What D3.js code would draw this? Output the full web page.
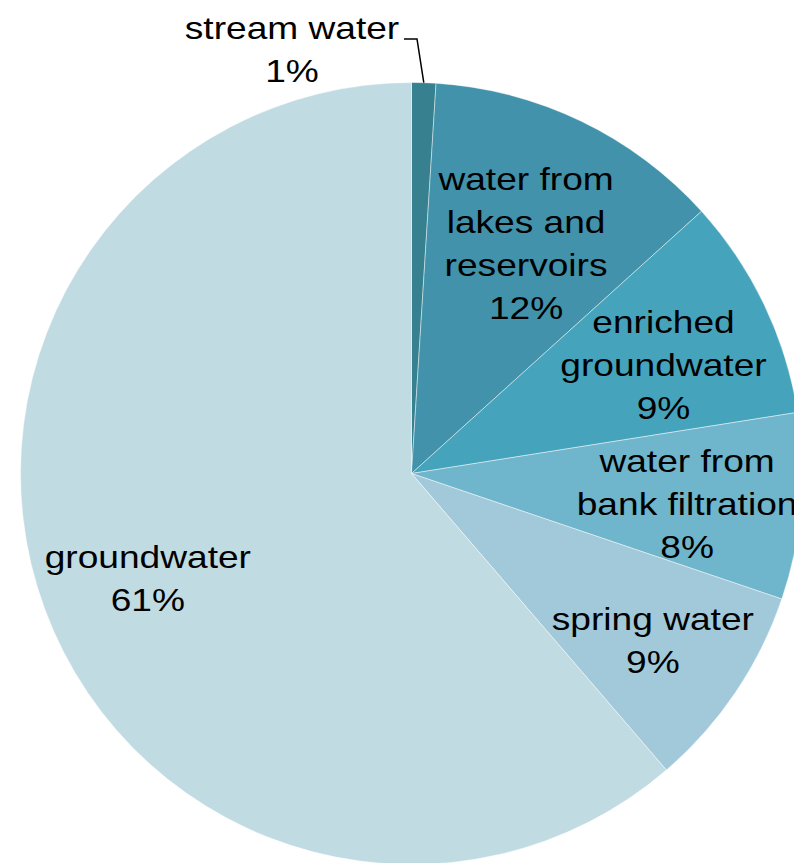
<!DOCTYPE html>
<html>
<head>
<meta charset="utf-8">
<script src="https://cdn.jsdelivr.net/npm/d3@7"></script>
<style>
  html, body { margin: 0; padding: 0; background: #fff; }
  svg { display: block; }
  text { font-family: "Liberation Sans", Arial, sans-serif; font-size: 32px; fill: #000; }
</style>
</head>
<body>
<svg id="chart" width="794" height="863"></svg>
<script>
// ---- data ----
const categories = ["stream water", "water from lakes and reservoirs", "enriched groundwater",
                    "water from bank filtration", "spring water", "groundwater"];
const labelLines = [["stream water"], ["water from", "lakes and", "reservoirs"], ["enriched", "groundwater"],
                    ["water from", "bank filtration"], ["spring water"], ["groundwater"]];
const shares = [1.0, 12.3, 9.2, 7.7, 8.5, 61.3];
const colors = ["#37808f", "#4192aa", "#46a3bc", "#6fb5cb", "#a1c9d9", "#c1dbe3"];

// ---- layout ----
const W = 794, H = 863;
const cx = 411.5, cy = 473.5, R = 391;
const labelRadiusFactor = [null, 0.658, 0.702, 0.709, 0.75, 0.726];
const labelAngleShiftDeg = [0, 0.7, 2.2, 1.4, 0.6, -1.4];
const lineH = 43, sx = 1.16;

const svg = d3.select("#chart");
const g = svg.append("g").attr("transform", `translate(${cx},${cy})`);

const pie = d3.pie().sort(null).value(d => d).startAngle(0).endAngle(2 * Math.PI);
const arcs = pie(shares);
const arc = d3.arc().innerRadius(0).outerRadius(R);

g.selectAll("path.slice").data(arcs).join("path")
  .attr("class", "slice")
  .attr("d", arc)
  .attr("fill", (d, i) => colors[i])
  .attr("stroke", "rgba(255,255,255,0.55)")
  .attr("stroke-width", 0.8);

function drawLabel(lines, x, y) {
  const n = lines.length;
  const first = y - (n - 1) * lineH / 2 + 11;
  lines.forEach((t, k) => {
    g.append("text")
      .attr("text-anchor", "middle")
      .attr("transform", `translate(${x},${first + k * lineH}) scale(${sx},1)`)
      .text(t);
  });
}

arcs.forEach((d, i) => {
  const lines = labelLines[i].concat([Math.round(shares[i]) + "%"]);
  const mid = (d.startAngle + d.endAngle) / 2;
  if (labelRadiusFactor[i] == null) {
    // outside label with leader line
    const lx = 292 - cx, ly = 49 - cy;
    drawLabel(lines, lx, ly);
    const px = R * Math.sin(mid), py = -R * Math.cos(mid);
    const elbowY = ly - 10;
    g.append("path")
      .attr("d", `M${lx + 112},${elbowY} L${lx + 125},${elbowY} L${px},${py}`)
      .attr("fill", "none").attr("stroke", "#000").attr("stroke-width", 1.5);
  } else {
    const r = R * labelRadiusFactor[i];
    const a = mid + labelAngleShiftDeg[i] * Math.PI / 180;
    drawLabel(lines, r * Math.sin(a), -r * Math.cos(a));
  }
});
</script>
</body>
</html>
